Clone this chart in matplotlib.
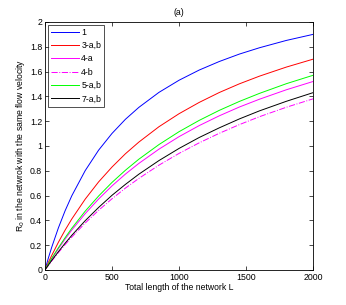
import numpy as np
import matplotlib
matplotlib.use('Agg')
import matplotlib.pyplot as plt

# total network length (x) and R0
L = [0, 25, 50, 100, 150, 200, 300, 400, 500, 600, 700, 850, 1000,
     1150, 1300, 1450, 1600, 1800, 2000]
r0_1 = [0, 0.095, 0.182, 0.339, 0.477, 0.598, 0.801, 0.966, 1.101, 1.215,
        1.311, 1.432, 1.530, 1.612, 1.681, 1.741, 1.792, 1.851, 1.900]
r0_3ab = [0, 0.060, 0.116, 0.223, 0.321, 0.411, 0.571, 0.710, 0.830, 0.937,
          1.031, 1.155, 1.260, 1.351, 1.431, 1.501, 1.563, 1.636, 1.700]
r0_4a = [0, 0.045, 0.089, 0.171, 0.249, 0.322, 0.454, 0.572, 0.678, 0.773,
         0.859, 0.974, 1.075, 1.164, 1.243, 1.314, 1.377, 1.453, 1.520]
r0_4b = [0, 0.036, 0.072, 0.140, 0.204, 0.265, 0.378, 0.481, 0.574, 0.660,
         0.738, 0.845, 0.940, 1.025, 1.102, 1.172, 1.236, 1.312, 1.380]
r0_5ab = [0, 0.047, 0.093, 0.179, 0.260, 0.336, 0.474, 0.596, 0.706, 0.804,
          0.893, 1.011, 1.115, 1.206, 1.287, 1.359, 1.424, 1.502, 1.570]
r0_7ab = [0, 0.038, 0.076, 0.147, 0.215, 0.279, 0.397, 0.504, 0.602, 0.690,
          0.772, 0.882, 0.980, 1.068, 1.146, 1.218, 1.283, 1.360, 1.430]

labels = ['1', '3-a,b', '4-a', '4-b', '5-a,b', '7-a,b']
xticks = [0, 500, 1000, 1500, 2000]
yticks = [0, 0.2, 0.4, 0.6, 0.8, 1, 1.2, 1.4, 1.6, 1.8, 2]

plt.rcParams['font.family'] = ['Liberation Sans', 'DejaVu Sans']

fig = plt.figure(figsize=(3.46, 3.05), dpi=100)
ax = fig.add_axes([0.130, 0.115, 0.775, 0.813])

series = [r0_1, r0_3ab, r0_4a, r0_4b, r0_5ab, r0_7ab]
colors = ['#0000ff', '#ff0000', '#ff00ff', '#ff00ff', '#00ff00', '#000000']
styles = ['-', '-', '-', '-.', '-', '-']
for y, c, ls, lab in zip(series, colors, styles, labels):
    ax.plot(L, y, color=c, linestyle=ls, linewidth=0.7, label=lab)

ax.set_xlim(0, 2000)
ax.set_ylim(0, 2)
ax.set_xticks(xticks)
ax.set_yticks(yticks)
ax.set_yticklabels([('%g' % v) for v in yticks])
ax.tick_params(direction='in', top=True, right=True, labelsize=6.3, length=3, width=0.5, pad=2)
for s in ax.spines.values():
    s.set_linewidth(0.6)

ax.set_title('(a)', fontsize=6.3, pad=5)
ax.set_xlabel('Total length of the network L', fontsize=6.2, labelpad=1)
ax.set_ylabel('R$_0$ in the netwrok with the same flow velocity', fontsize=6.2, labelpad=2)

leg = ax.legend(loc='upper left', fontsize=6.3, frameon=True, fancybox=False,
                edgecolor='black', handlelength=3.2, borderaxespad=0.3,
                labelspacing=0.5, handletextpad=0.3, borderpad=0.35)
leg.get_frame().set_linewidth(0.6)

fig.savefig('out.png', dpi=100)
